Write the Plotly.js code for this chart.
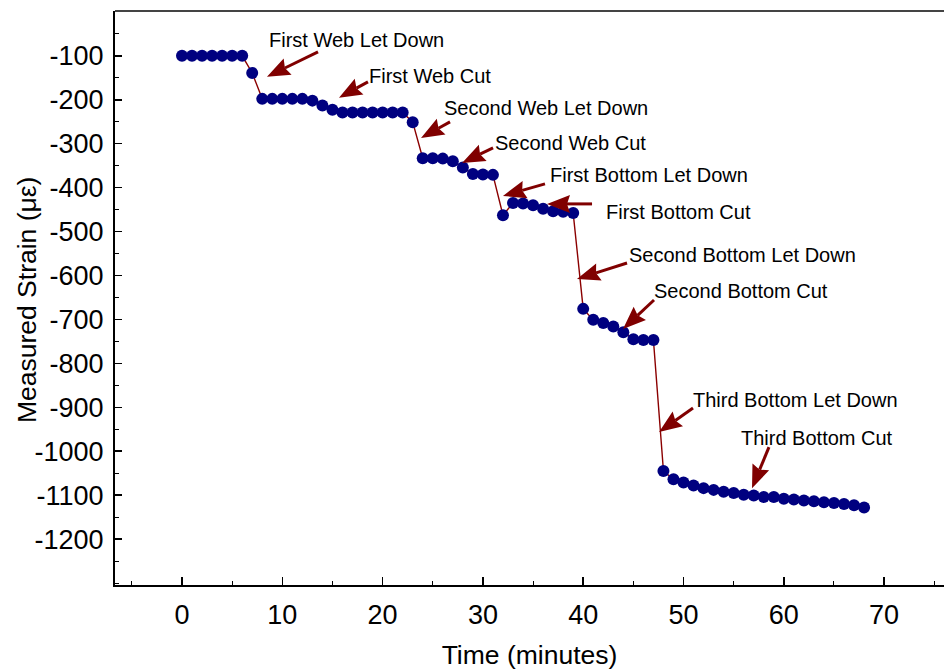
<!DOCTYPE html>
<html>
<head>
<meta charset="utf-8">
<script src="https://cdn.plot.ly/plotly-3.0.1.min.js"></script>
<style>html,body{margin:0;padding:0;background:#fff;overflow:hidden}</style>
</head>
<body>
<div id="chart" style="width:944px;height:670px"></div>
<script>
// Time in minutes
const timeMin = [0,1,2,3,4,5,6,7,8,9,10,11,12,13,14,15,16,17,18,19,20,21,22,23,24,25,26,27,28,29,30,31,32,33,34,35,36,37,38,39,40,41,42,43,44,45,46,47,48,49,50,51,52,53,54,55,56,57,58,59,60,61,62,63,64,65,66,67,68];
// Measured strain (microstrain)
const strain = [-100,-100,-100,-100,-100,-100,-100,-139,-198,-198,-198,-198,-198,-202,-213,-223,-229,-229,-229,-229,-229,-229,-229,-251,-333,-333,-334,-340,-354,-369,-370,-371,-463,-435,-436,-440,-448,-454,-455,-458,-676,-701,-708,-716,-729,-745,-747,-747,-1045,-1064,-1071,-1078,-1084,-1088,-1092,-1095,-1099,-1101,-1104,-1104,-1108,-1110,-1112,-1114,-1116,-1118,-1120,-1123,-1128];

const yTickVals = [-100,-200,-300,-400,-500,-600,-700,-800,-900,-1000,-1100,-1200];
const yTickText = ["-100","-200","-300","-400","-500","-600","-700","-800","-900","-1000","-1100","-1200"];
const xTickVals = [0,10,20,30,40,50,60,70];
const xTickText = ["0","10","20","30","40","50","60","70"];

// Event labels, their text anchor, arrow tail and arrow tip (data units)
const eventLabels = ["First Web Let Down","First Web Cut","Second Web Let Down","Second Web Cut","First Bottom Let Down","First Bottom Cut","Second Bottom Let Down","Second Bottom Cut","Third Bottom Let Down","Third Bottom Cut"];
const labelX = [8.47,18.44,25.92,31.01,36.49,42.07,44.37,46.86,50.75,55.53];
const labelY = [-63.6,-145.6,-218.5,-298.2,-371.1,-455.4,-553.3,-635.3,-883.6,-970.2];
const tailX = [13.56,18.54,26.72,31.01,36.19,40.88,44.37,47.06,50.95,58.52];
const tailY = [-90.9,-159.2,-250.3,-309.6,-391.6,-437.1,-571.5,-655.8,-901.8,-990.7];
const tipX = [8.47,15.65,23.83,27.92,32.0,36.39,39.38,43.97,47.56,56.83];
const tipY = [-147.8,-195.7,-286.8,-343.7,-418.9,-437.1,-608.0,-721.9,-956.5,-1084.1];

const FONT = '"Liberation Sans", Arial, Helvetica, sans-serif';
const ARROW = '#800000';

// plot geometry (used to draw arrowheads with correct pixel proportions)
const W = 944, H = 670;
const M = {l: 115, r: 0, t: 11, b: 85};
const XR = [-6.68, 75.97], YR = [-1304.5, 2];
const PW = W - M.l - M.r, PH = H - M.t - M.b;
const toPx = x => M.l + (x - XR[0]) / (XR[1] - XR[0]) * PW;
const toPy = y => M.t + (YR[1] - y) / (YR[1] - YR[0]) * PH;
const fromPx = p => XR[0] + (p - M.l) / PW * (XR[1] - XR[0]);
const fromPy = p => YR[1] - (p - M.t) / PH * (YR[1] - YR[0]);

const shapes = [{type: 'line', xref: 'paper', yref: 'paper', x0: 0, x1: 1, y0: 1, y1: 1, line: {color: '#444', width: 2}}];
const HEAD_LEN = 23, HEAD_HALF = 9, NOTCH = 3;
for (let i = 0; i < eventLabels.length; i++) {
  const tx = toPx(tipX[i]), ty = toPy(tipY[i]);
  const sx = toPx(tailX[i]), sy = toPy(tailY[i]);
  const dx = tx - sx, dy = ty - sy, d = Math.hypot(dx, dy);
  const ux = dx / d, uy = dy / d, nx = -uy, ny = ux;
  const bx = tx - HEAD_LEN * ux, by = ty - HEAD_LEN * uy;
  const c1 = [bx + HEAD_HALF * nx, by + HEAD_HALF * ny];
  const c2 = [bx - HEAD_HALF * nx, by - HEAD_HALF * ny];
  const nk = [bx + NOTCH * ux, by + NOTCH * uy];
  shapes.push({
    type: 'line', xref: 'x', yref: 'y',
    x0: tailX[i], y0: tailY[i], x1: fromPx(nk[0]), y1: fromPy(nk[1]),
    line: {color: ARROW, width: 3}
  });
  const pt = p => fromPx(p[0]).toFixed(4) + ',' + fromPy(p[1]).toFixed(3);
  shapes.push({
    type: 'path', xref: 'x', yref: 'y',
    path: 'M' + pt([tx, ty]) + 'L' + pt(c1) + 'L' + pt(nk) + 'L' + pt(c2) + 'Z',
    fillcolor: ARROW, line: {width: 0}
  });
}

const annotations = [];
for (let i = 0; i < eventLabels.length; i++) {
  annotations.push({
    x: labelX[i], y: labelY[i], xref: 'x', yref: 'y',
    text: eventLabels[i], showarrow: false, xanchor: 'left', yanchor: 'middle',
    font: {family: FONT, size: 20, color: '#000'}
  });
}
// y axis title placed to match reference
annotations.push({
  xref: 'paper', yref: 'paper', x: -0.1062, y: 0.498,
  text: 'Measured Strain (με)', textangle: -90, showarrow: false,
  xanchor: 'center', yanchor: 'middle',
  font: {family: FONT, size: 26.5, color: '#000'}
});

const trace = {
  x: timeMin, y: strain, type: 'scatter', mode: 'lines+markers',
  line: {color: '#8B0000', width: 1.4},
  marker: {color: '#000080', size: 12, line: {width: 0}},
  hoverinfo: 'skip'
};

const layout = {
  width: W, height: H,
  margin: {l: M.l, r: M.r, t: M.t, b: M.b, pad: 0},
  paper_bgcolor: '#fff', plot_bgcolor: '#fff',
  showlegend: false,
  font: {family: FONT, color: '#000'},
  xaxis: {
    range: XR,
    tickmode: 'array', tickvals: xTickVals, ticktext: xTickText,
    ticks: 'inside', ticklen: 8, tickwidth: 1.5, tickcolor: '#000',
    minor: {tickmode: 'linear', tick0: 0, dtick: 5, ticks: 'inside', ticklen: 4, tickwidth: 1, tickcolor: '#000', showgrid: false},
    showline: true, linecolor: '#000', linewidth: 2,
    showgrid: false, zeroline: false,
    tickfont: {family: FONT, size: 27, color: '#000'},
    ticklabelstandoff: 5,
    title: {text: 'Time (minutes)', font: {family: FONT, size: 26.5, color: '#000'}, standoff: 16}
  },
  yaxis: {
    range: YR,
    tickmode: 'array', tickvals: yTickVals, ticktext: yTickText,
    ticks: 'inside', ticklen: 7, tickwidth: 1.5, tickcolor: '#000',
    minor: {tickmode: 'linear', tick0: 0, dtick: 50, ticks: 'inside', ticklen: 4, tickwidth: 1, tickcolor: '#000', showgrid: false},
    showline: true, linecolor: '#000', linewidth: 2,
    showgrid: false, zeroline: false,
    tickfont: {family: FONT, size: 27, color: '#000'},
    ticklabelstandoff: 4
  },
  shapes: shapes,
  annotations: annotations
};

Plotly.newPlot('chart', [trace], layout, {displayModeBar: false, staticPlot: true});
</script>
</body>
</html>
